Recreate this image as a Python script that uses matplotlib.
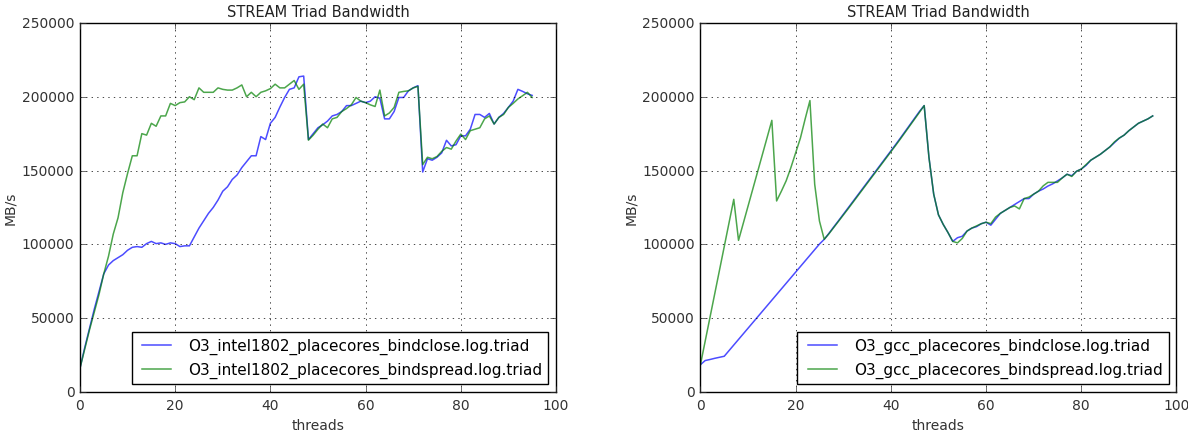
import numpy as np
import matplotlib.pyplot as plt

plt.style.use('classic')

threads = np.arange(96)

# venstre: intel
intel_close = [16000, 30000, 43000, 56000, 68000, 80000, 86000, 89000, 91000, 93000,
               96000, 98000, 98500, 98000, 100500, 102000, 100500, 101000, 100000, 101000,
               100500, 98500, 99000, 99000, 105000, 111000, 116000, 121000, 125000, 130000,
               136000, 139000, 144000, 147000, 152000, 156000, 160000, 160000, 173000, 171000,
               182000, 186000, 193000, 199500, 205000, 206000, 213500, 214000, 171000, 175000,
               179000, 181000, 183500, 187000, 188000, 190000, 194000, 194000, 195500, 197000,
               196000, 197000, 200000, 199000, 185000, 185000, 190000, 199500, 199500, 204000,
               206000, 207500, 149000, 158000, 157000, 159000, 162000, 170500, 166700, 167500,
               173500, 173500, 178000, 188000, 188000, 186000, 188700, 181500, 186000, 188700,
               192800, 197000, 205000, 203600, 202000, 200900]
intel_spread = [16000, 29000, 42000, 54000, 66000, 80000, 92000, 107000, 118000, 135000,
                148000, 160000, 160000, 175000, 174000, 182000, 180000, 187000, 187000, 195500,
                194000, 196000, 196500, 200000, 198000, 206000, 203000, 203000, 203000, 206000,
                205000, 204500, 204500, 206000, 208000, 200000, 203000, 200000, 203000, 204000,
                205500, 208500, 206000, 206000, 208500, 211000, 205000, 208500, 170600, 174000,
                178000, 181500, 179000, 185000, 186000, 190000, 192000, 194500, 199500, 197000,
                196000, 194500, 193400, 204500, 187000, 189000, 192800, 203000, 203600, 204000,
                206000, 207000, 154000, 159000, 158000, 159500, 163000, 165600, 164500, 170000,
                174700, 171000, 177000, 178000, 179000, 185000, 187000, 181500, 186000, 188000,
                192800, 195500, 198500, 200700, 203000, 199500]

# hoeger: gcc
gcc_close = [18500, 21300, 22000, 22800, 23500, 24200, 28000, 31800, 35600, 39400,
             43200, 47000, 50800, 54600, 58400, 62200, 66000, 69800, 73600, 77400,
             81200, 85000, 88800, 92600, 96400, 100200, 103400, 107500, 111800, 116000,
             120300, 124600, 128900, 133200, 137500, 141800, 146100, 150400, 154700, 159000,
             163300, 167600, 172000, 176500, 181000, 185500, 190000, 194000, 159000, 134000,
             120000, 113500, 108000, 102000, 104500, 105500, 109000, 111000, 112000, 114000,
             115000, 113000, 117000, 121000, 123000, 125000, 127000, 129000, 131000, 131000,
             134000, 136000, 137500, 139500, 141000, 143000, 145000, 147500, 146500, 149500,
             151000, 153500, 157000, 159000, 161000, 163500, 166000, 169000, 172000, 174000,
             177000, 179500, 182000, 183500, 185000, 187000]
gcc_spread = [18500, 34500, 50500, 66500, 82500, 98500, 114500, 130500, 102700, 114300,
              125900, 137500, 149100, 160700, 172300, 184000, 129400, 136000, 143000, 152000,
              162000, 172000, 185000, 197400, 140700, 115800, 103400, 107200, 111400, 115600,
              119800, 124000, 128300, 132600, 136900, 141200, 145500, 149800, 154100, 158400,
              162700, 167000, 171400, 175900, 180400, 184900, 189400, 194000, 159000, 134000,
              120000, 113500, 108000, 102000, 101000, 104000, 109000, 111000, 112500, 114000,
              115000, 114000, 118500, 121000, 123000, 125000, 126000, 124000, 131000, 132000,
              134000, 136000, 139600, 142000, 142000, 142000, 145000, 147500, 146000, 149500,
              151000, 154000, 157000, 159000, 161000, 163500, 166000, 169500, 172000, 174000,
              177000, 179500, 182000, 183500, 185000, 187000]

fig = plt.figure(figsize=(11.88, 4.35), dpi=100, facecolor='white')
ax1 = fig.add_axes([0.0673, 0.0966, 0.4007, 0.8484])
ax2 = fig.add_axes([0.5896, 0.0966, 0.4007, 0.8484])

panels = [
    (ax1, intel_close, intel_spread, 'O3_intel1802_placecores_bindclose.log.triad',
     'O3_intel1802_placecores_bindspread.log.triad'),
    (ax2, gcc_close, gcc_spread, 'O3_gcc_placecores_bindclose.log.triad',
     'O3_gcc_placecores_bindspread.log.triad'),
]

for ax, close, spread, lab1, lab2 in panels:
    ax.plot(threads, close, color='b', alpha=0.7, lw=1.1, label=lab1)
    ax.plot(threads, spread, color='g', alpha=0.7, lw=1.1, label=lab2)
    ax.set_xlim(0, 100)
    ax.set_ylim(0, 250000)
    ax.set_title('STREAM Triad Bandwidth', fontsize=10.5, color='#222222')
    ax.set_xlabel('threads', fontsize=10, color='#333333')
    ax.set_ylabel('MB/s', fontsize=10, color='#333333', labelpad=3)
    ax.tick_params(labelsize=10, colors='#333333', pad=4)
    ax.grid(True)
    ax.legend(loc='lower right', fontsize=11, handlelength=2.5)

fig.savefig('out.png', dpi=100, facecolor='white')
